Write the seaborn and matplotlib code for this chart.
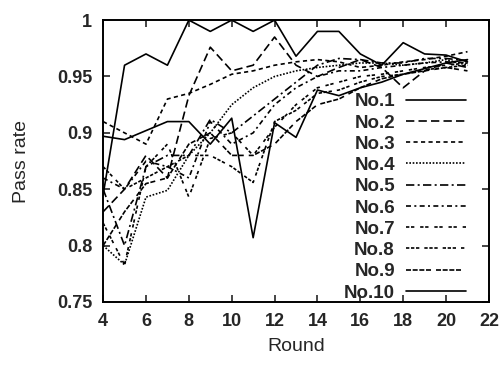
import matplotlib
matplotlib.use("Agg")
import matplotlib.pyplot as plt
import seaborn as sns
import pandas as pd
import numpy as np

rounds = list(range(4, 22))
series_names = ["No.1", "No.2", "No.3", "No.4", "No.5", "No.6", "No.7", "No.8", "No.9", "No.10"]

no1 = [0.845, 0.960, 0.970, 0.960, 1.000, 0.990, 1.000, 0.990, 1.000, 0.968, 0.990, 0.990, 0.970, 0.960, 0.980, 0.970, 0.969, 0.963]
no2 = [0.830, 0.850, 0.880, 0.860, 0.933, 0.976, 0.955, 0.960, 0.985, 0.960, 0.950, 0.958, 0.965, 0.958, 0.940, 0.955, 0.962, 0.958]
no3 = [0.910, 0.900, 0.890, 0.930, 0.935, 0.943, 0.952, 0.955, 0.960, 0.963, 0.965, 0.963, 0.958, 0.960, 0.963, 0.965, 0.968, 0.972]
no4 = [0.800, 0.783, 0.843, 0.849, 0.880, 0.900, 0.925, 0.940, 0.950, 0.955, 0.958, 0.960, 0.962, 0.962, 0.960, 0.962, 0.965, 0.960]
no5 = [0.850, 0.800, 0.870, 0.880, 0.880, 0.912, 0.900, 0.915, 0.930, 0.945, 0.960, 0.966, 0.965, 0.962, 0.962, 0.966, 0.966, 0.964]
no6 = [0.860, 0.850, 0.875, 0.870, 0.860, 0.910, 0.890, 0.900, 0.925, 0.940, 0.950, 0.955, 0.955, 0.958, 0.960, 0.962, 0.963, 0.962]
no7 = [0.820, 0.783, 0.870, 0.890, 0.843, 0.895, 0.900, 0.880, 0.905, 0.925, 0.940, 0.945, 0.950, 0.952, 0.955, 0.958, 0.960, 0.962]
no8 = [0.870, 0.850, 0.860, 0.870, 0.880, 0.880, 0.870, 0.856, 0.910, 0.920, 0.935, 0.938, 0.945, 0.950, 0.952, 0.956, 0.958, 0.960]
no9 = [0.800, 0.830, 0.855, 0.860, 0.890, 0.900, 0.880, 0.880, 0.890, 0.910, 0.925, 0.930, 0.940, 0.948, 0.952, 0.955, 0.958, 0.955]
no10 = [0.897, 0.894, 0.902, 0.910, 0.910, 0.890, 0.913, 0.807, 0.909, 0.896, 0.938, 0.933, 0.940, 0.945, 0.952, 0.957, 0.962, 0.965]

values = [no1, no2, no3, no4, no5, no6, no7, no8, no9, no10]

rows = []
for name, vals in zip(series_names, values):
    for r, v in zip(rounds, vals):
        rows.append({"Round": r, "Pass rate": v, "series": name})
df = pd.DataFrame(rows)

sns.set_theme(style="ticks")
plt.rcParams["font.family"] = ["Liberation Sans", "DejaVu Sans"]

dashes = {
    "No.1": "",
    "No.2": (5, 2.5),
    "No.3": (2.5, 2),
    "No.4": (1, 1),
    "No.5": (5, 2, 1.2, 2),
    "No.6": (3, 2, 1.2, 2),
    "No.7": (2, 1, 2, 3.5),
    "No.8": (2, 1, 2, 1, 2, 3),
    "No.9": (3, 1, 3, 1, 3, 1, 3, 3),
    "No.10": "",
}
palette = {n: "black" for n in series_names}

fig = plt.figure(figsize=(5.03, 3.66), dpi=100)
ax = fig.add_axes([0.205, 0.175, 0.767, 0.770])

sns.lineplot(data=df, x="Round", y="Pass rate", hue="series", style="series",
             hue_order=series_names, style_order=series_names,
             palette=palette, dashes=dashes, linewidth=1.2, ax=ax, legend=True)

ax.set_xlim(4, 22)
ax.set_ylim(0.75, 1.0)
ax.set_xticks(range(4, 23, 2))
ax.set_yticks([0.75, 0.8, 0.85, 0.9, 0.95, 1.0])
ax.set_yticklabels(["0.75", "0.8", "0.85", "0.9", "0.95", "1"])
ax.tick_params(direction="in", length=5, width=1.2, top=True, right=True,
               labelsize=13, pad=8)
for lbl in ax.get_xticklabels() + ax.get_yticklabels():
    lbl.set_fontweight("bold")
for sp in ax.spines.values():
    sp.set_linewidth(1.4)
    sp.set_color("black")
ax.set_xlabel("Round", fontsize=14, labelpad=6)
ax.set_ylabel("Pass rate", fontsize=14, labelpad=19)

handles, labels = ax.get_legend_handles_labels()
leg = ax.legend(handles, labels, loc="lower right", bbox_to_anchor=(0.975, -0.045),
                frameon=False, markerfirst=False, fontsize=13.5,
                handlelength=3.2, labelspacing=0.22, handletextpad=0.6,
                borderpad=0.2)
for t in leg.get_texts():
    t.set_fontweight("bold")

fig.savefig("out.png", dpi=100)
